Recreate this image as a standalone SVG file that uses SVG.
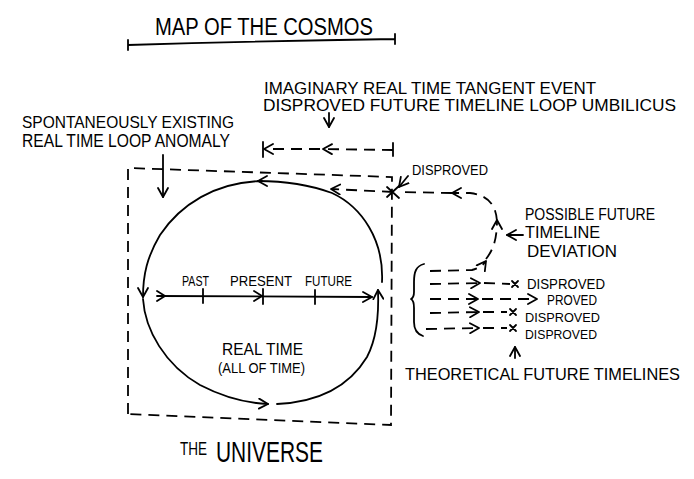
<svg xmlns="http://www.w3.org/2000/svg" width="694" height="479" viewBox="0 0 694 479">
<style>
.t{font-family:"Liberation Sans",Arial,sans-serif;fill:#000;}
.s{fill:none;stroke:#000;stroke-width:1.8;stroke-linecap:round;stroke-linejoin:round;}
.d{fill:none;stroke:#000;stroke-width:1.8;stroke-linecap:butt;stroke-dasharray:11 7;}
.a{marker-end:url(#ah);}
</style>
<defs>
<marker id="ah" viewBox="0 0 12 12" refX="10" refY="6" markerWidth="12" markerHeight="12" markerUnits="userSpaceOnUse" orient="auto">
<path d="M1,1 L10,6 L1,11" fill="none" stroke="#000" stroke-width="1.8" stroke-linecap="round" stroke-linejoin="round"/>
</marker>
</defs>
<rect width="694" height="479" fill="#fff"/>

<g id="title">
<text class="t" x="155" y="35" font-size="23" textLength="218" lengthAdjust="spacingAndGlyphs">MAP OF THE COSMOS</text>
<path class="s" d="M128,45 Q260,41 395,39 M128,40 L128,50 M395,34 L395,44"/>
</g>

<g id="umbilicus-label">
<text class="t" x="264" y="94" font-size="16" textLength="332" lengthAdjust="spacingAndGlyphs">IMAGINARY REAL TIME TANGENT EVENT</text>
<text class="t" x="263" y="111" font-size="17" textLength="413" lengthAdjust="spacingAndGlyphs">DISPROVED FUTURE TIMELINE LOOP UMBILICUS</text>
</g>

<g id="anomaly-label">
<text class="t" x="22" y="128" font-size="17" textLength="212" lengthAdjust="spacingAndGlyphs">SPONTANEOUSLY EXISTING</text>
<text class="t" x="22" y="147" font-size="18" textLength="208" lengthAdjust="spacingAndGlyphs">REAL TIME LOOP ANOMALY</text>
</g>

<g id="disproved-top">
<text class="t" x="412" y="175" font-size="15" textLength="76" lengthAdjust="spacingAndGlyphs">DISPROVED</text>
</g>

<g id="universe">
<path class="d" d="M128,414 L128,168 L392,177 L391,425 Z"/>
<text class="t" x="180" y="455" font-size="19" textLength="27" lengthAdjust="spacingAndGlyphs">THE</text>
<text class="t" x="216" y="462" font-size="30" textLength="107" lengthAdjust="spacingAndGlyphs">UNIVERSE</text>
</g>

<g id="real-time">
<text class="t" x="222" y="355" font-size="17" textLength="81" lengthAdjust="spacingAndGlyphs">REAL TIME</text>
<text class="t" x="218" y="373" font-size="14" textLength="87" lengthAdjust="spacingAndGlyphs">(ALL OF TIME)</text>
<text class="t" x="182" y="286" font-size="14" textLength="27" lengthAdjust="spacingAndGlyphs">PAST</text>
<text class="t" x="230" y="286" font-size="14" textLength="62" lengthAdjust="spacingAndGlyphs">PRESENT</text>
<text class="t" x="305" y="286" font-size="14" textLength="47" lengthAdjust="spacingAndGlyphs">FUTURE</text>
</g>

<g id="deviation-label">
<text class="t" x="525" y="220" font-size="16" textLength="130" lengthAdjust="spacingAndGlyphs">POSSIBLE FUTURE</text>
<text class="t" x="525" y="238" font-size="16" textLength="75" lengthAdjust="spacingAndGlyphs">TIMELINE</text>
<text class="t" x="527" y="257" font-size="16" textLength="90" lengthAdjust="spacingAndGlyphs">DEVIATION</text>
</g>

<g id="timeline-labels">
<text class="t" x="527" y="289" font-size="14" textLength="78" lengthAdjust="spacingAndGlyphs">DISPROVED</text>
<text class="t" x="547" y="305" font-size="14" textLength="50" lengthAdjust="spacingAndGlyphs">PROVED</text>
<text class="t" x="525" y="322" font-size="13" textLength="75" lengthAdjust="spacingAndGlyphs">DISPROVED</text>
<text class="t" x="525" y="339" font-size="13" textLength="72" lengthAdjust="spacingAndGlyphs">DISPROVED</text>
<text class="t" x="405" y="380" font-size="17" textLength="275" lengthAdjust="spacingAndGlyphs">THEORETICAL FUTURE TIMELINES</text>
</g>

<g id="connectors">
<path class="s a" d="M329,113 L329,127"/>
<path class="d a" d="M393,150 L323,149"/>
<path class="d a" d="M320,149 L264,149"/>
<path class="s" d="M263,142 L263,157 M393,143 L393,156"/>
<path class="s a" d="M163,155 L163,197"/>
<path class="s a" d="M408,176 L399,187"/>
<path class="s" d="M387,187 L399,198 M399,186 L387,197"/>
<path class="s a" d="M382,282 C384,240 362,207 332,193 C310,185 285,181 258,181"/>
<path class="s a" d="M262,181 C215,182 180,205 160,235 C147,257 143,275 143,297"/>
<path class="s a" d="M143,299 C145,330 165,365 200,385 C225,398 245,403 268,404"/>
<path class="s a" d="M277,404 C320,402 350,385 367,357 C377,338 379,315 378,290"/>
<path class="d a" d="M393,192 L331,189"/>
<path class="s a" d="M157,296 L372,297"/>
<path class="s" d="M157,291 L165,296 L157,301 M254,291 L262,296 L254,301 M203,289 L203,303 M263,289 L263,304 M315,290 L315,304"/>
<path class="d a" d="M430,271 L472,270 Q481,268 486,261"/>
<path class="d a" d="M486,259 C493,250 497,240 497,220"/>
<path class="d a" d="M497,221 C496,205 488,195 470,193 L452,193"/>
<path class="d" d="M452,193 L398,192"/>
<path class="s a" d="M523,235 L507,235"/>
<path class="s" d="M424,264 C416,266 414,272 414,282 L414,292 C414,296 413,298 411,299 C413,300 414,303 414,308 L414,322 C414,330 417,334 423,336"/>
<path class="d a" d="M430,284 L480,283"/>
<path class="d" d="M484,283 L510,284"/>
<path class="s" d="M512,281 L518,287 M518,281 L512,287"/>
<path class="d a" d="M430,299 L478,299"/>
<path class="d a" d="M482,299 L537,299"/>
<path class="d a" d="M430,313 L479,312"/>
<path class="d" d="M483,312 L507,312"/>
<path class="s" d="M510,309 L516,315 M516,309 L510,315"/>
<path class="d a" d="M426,329 L479,328"/>
<path class="d" d="M483,328 L507,328"/>
<path class="s" d="M510,325 L516,331 M516,325 L510,331"/>
<path class="s a" d="M515,358 L515,347"/>
</g>
</svg>
